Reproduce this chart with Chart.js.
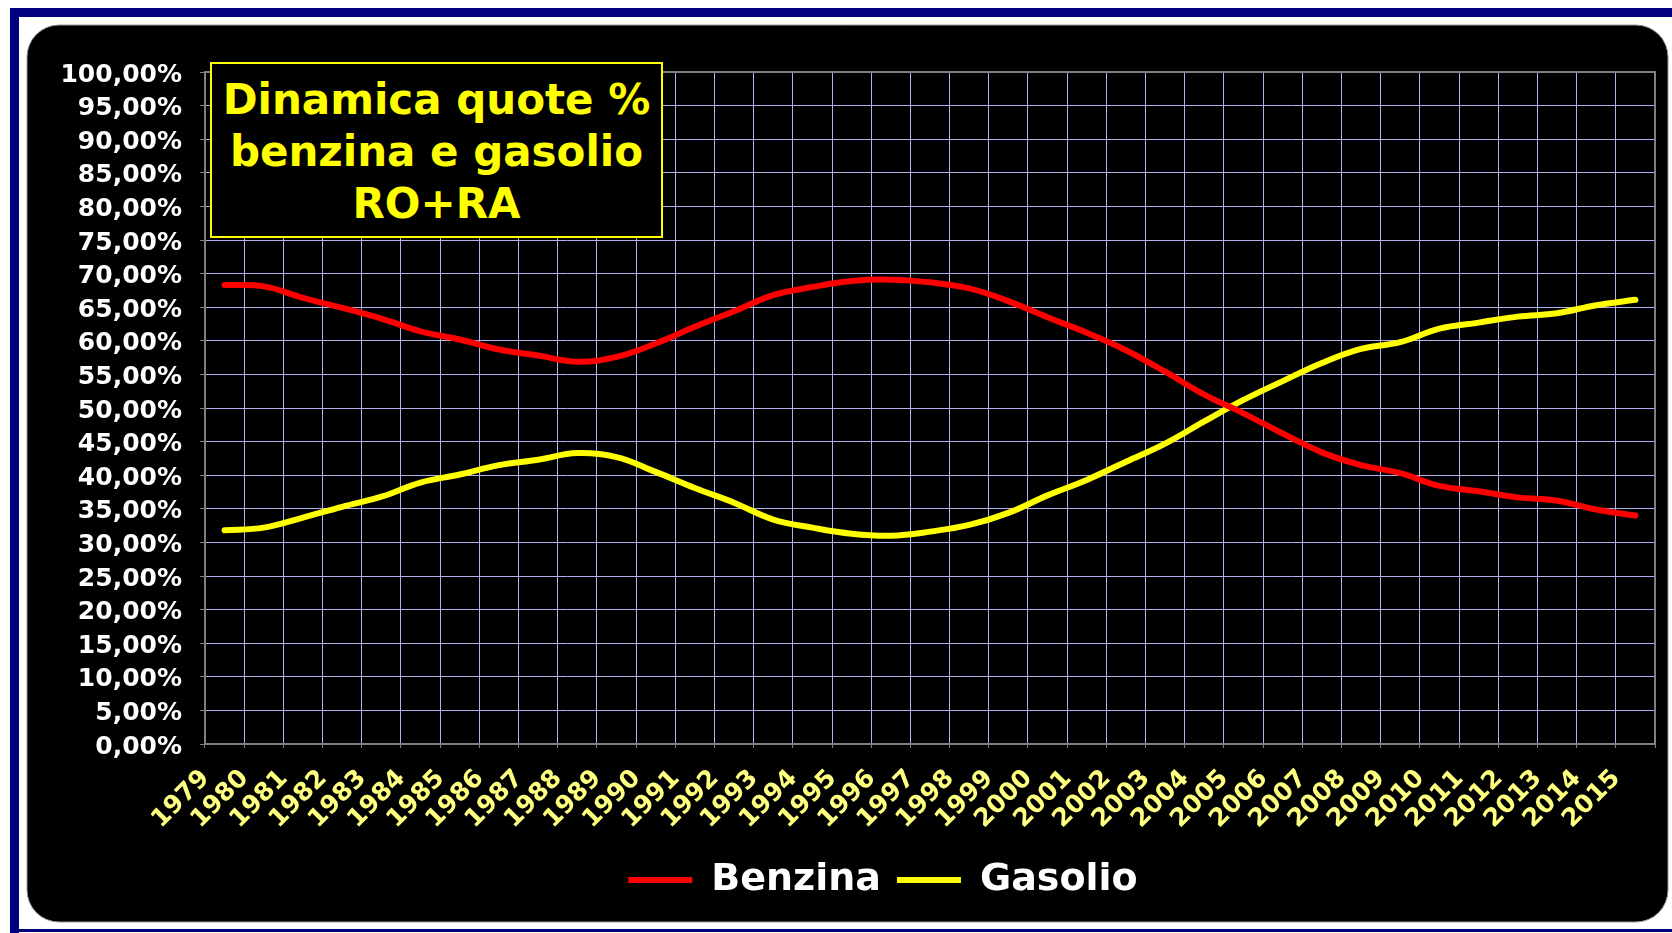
<!DOCTYPE html>
<html><head><meta charset="utf-8">
<script src="https://cdn.jsdelivr.net/npm/chart.js@4/dist/chart.umd.min.js"></script>
<style>
html,body{margin:0;padding:0;background:#fff;}
#wrap{position:relative;width:1672px;height:933px;overflow:hidden;}
#c{position:absolute;left:0;top:0;}
#title{position:absolute;left:210px;top:62px;width:453px;height:176px;box-sizing:border-box;border:2px solid #ffff00;background:#000;color:#ffff00;font:bold 42px 'DejaVu Sans';line-height:52px;text-align:center;padding-top:10px;white-space:nowrap;}
</style></head>
<body><div id="wrap"><canvas id="c" width="1672" height="933"></canvas><div id="title">Dinamica quote %<br>benzina e gasolio<br>RO+RA</div></div>
<script>
const categories = ['1979','1980','1981','1982','1983','1984','1985','1986','1987','1988','1989','1990','1991','1992','1993','1994','1995','1996','1997','1998','1999','2000','2001','2002','2003','2004','2005','2006','2007','2008','2009','2010','2011','2012','2013','2014','2015'];
const benzina = [68.3, 68.1, 66.4, 64.9, 63.3, 61.4, 60.2, 58.7, 57.8, 56.9, 57.6, 59.6, 62.1, 64.4, 66.8, 68.0, 68.9, 69.1, 68.7, 67.8, 65.9, 63.5, 61.2, 58.6, 55.4, 52.0, 49.2, 46.2, 43.4, 41.5, 40.3, 38.4, 37.6, 36.7, 36.2, 34.9, 34.0];
const gasolio = [31.8, 32.2, 33.7, 35.3, 36.8, 38.9, 40.1, 41.5, 42.3, 43.3, 42.7, 40.5, 38.1, 35.9, 33.4, 32.2, 31.3, 31.0, 31.6, 32.6, 34.4, 37.0, 39.3, 42.0, 44.7, 48.0, 51.2, 54.0, 56.7, 58.8, 59.8, 61.8, 62.7, 63.6, 64.1, 65.3, 66.1];
const seriesNames = ['Benzina', 'Gasolio'];
const yMin = 0, yMax = 100, yStep = 5;

const framePlugin = {
  id: 'frame',
  beforeDraw(chart) {
    const ctx = chart.ctx;
    ctx.save();
    ctx.fillStyle = '#ffffff'; ctx.fillRect(0, 0, 1672, 933);
    ctx.fillStyle = '#000080';
    ctx.fillRect(10, 8, 9, 925);
    ctx.fillRect(10, 8, 1662, 9);
    ctx.fillRect(10, 929, 1662, 3);
    ctx.fillStyle = '#000000';
    ctx.beginPath(); ctx.roundRect(27, 25, 1641, 897, 32); ctx.fill();
    ctx.strokeStyle = '#9a9a9a'; ctx.lineWidth = 1; ctx.stroke();
    ctx.restore();
  },
  afterLayout(chart) {
    if (chart.legend) { chart.legend.left = 111; }
  },
  beforeDatasetsDraw(chart) {
    const {ctx, chartArea: a} = chart;
    ctx.save();
    ctx.strokeStyle = '#808080'; ctx.lineWidth = 2;
    ctx.strokeRect(a.left, a.top, a.right - a.left, a.bottom - a.top);
    ctx.restore();
  }
};

new Chart(document.getElementById('c'), {
  type: 'line',
  data: {
    labels: categories,
    datasets: [
      {label: seriesNames[0], data: benzina, borderColor: '#ff0000', backgroundColor: '#ff0000', borderWidth: 6, pointRadius: 0, tension: 0.4, borderCapStyle: 'round', borderJoinStyle: 'round', fill: false},
      {label: seriesNames[1], data: gasolio, borderColor: '#ffff00', backgroundColor: '#ffff00', borderWidth: 6, pointRadius: 0, tension: 0.4, borderCapStyle: 'round', borderJoinStyle: 'round', fill: false}
    ]
  },
  options: {
    responsive: false,
    animation: false,
    devicePixelRatio: 1,
    layout: {padding: {left: 40, top: 72, right: 17, bottom: 24}},
    plugins: {
      tooltip: {enabled: false},
      title: {display: false},
      legend: {
        position: 'bottom',
        labels: {
          color: '#ffffff',
          font: {family: "'DejaVu Sans'", size: 38, weight: 'bold'},
          usePointStyle: true,
          pointStyle: 'line',
          pointStyleWidth: 64,
          padding: 16
        }
      }
    },
    scales: {
      x: {
        offset: true,
        afterFit(scale) { scale.height = 101; scale.paddingLeft = 0; scale.paddingRight = 0; },
        grid: {offset: true, color: '#b0b0f0', lineWidth: 1, drawTicks: true, tickLength: 4, tickColor: '#808080'},
        border: {display: false},
        ticks: {
          autoSkip: false, minRotation: 45, maxRotation: 45,
          color: '#ffff80', font: {family: "'DejaVu Sans'", size: 25, weight: 'bold'},
          padding: 16, labelOffset: -19
        }
      },
      y: {
        min: yMin, max: yMax,
        afterFit(scale) { scale.width = 165; },
        grid: {color: '#b0b0f0', lineWidth: 1, drawTicks: true, tickLength: 5, tickColor: '#808080'},
        border: {display: false},
        ticks: {
          stepSize: yStep,
          color: '#ffffff', font: {family: "'DejaVu Sans'", size: 25, weight: 'bold'},
          padding: 18, labelOffset: 3,
          callback: (v) => v.toFixed(2).replace('.', ',') + '%'
        }
      }
    }
  },
  plugins: [framePlugin]
});
</script>
</body></html>
